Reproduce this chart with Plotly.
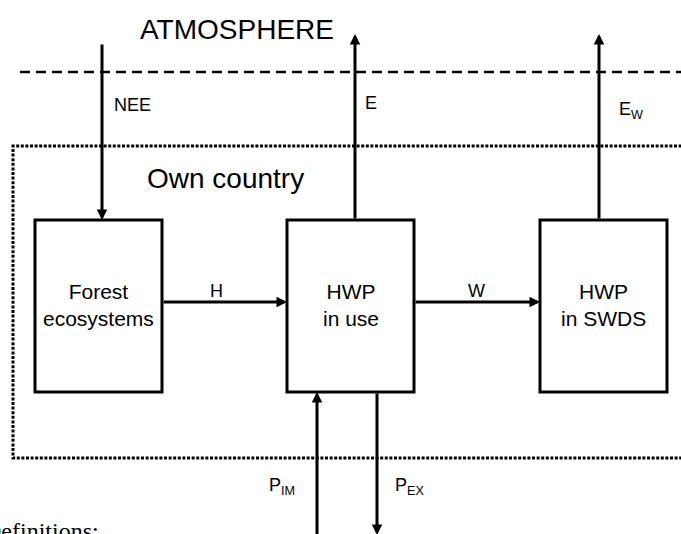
import plotly.graph_objects as go

W, H = 681, 534

# ---- content ----
title_text = "ATMOSPHERE"
region_text = "Own country"
footer_text = "Definitions:"
node_labels = ["Forest<br>ecosystems", "HWP<br>in use", "HWP<br>in SWDS"]
flow_labels = ["NEE", "E", "E<sub>W</sub>", "H", "W", "P<sub>IM</sub>", "P<sub>EX</sub>"]

# ---- geometry (pixel coordinates of the diagram) ----
node_x0 = [35, 287, 540]
node_x1 = [162, 414, 667]
node_top, node_bottom = 220, 392

flow_tail_x = [102, 355, 599, 162, 414, 317, 377]
flow_tail_y = [43, 220, 220, 302, 302, 545, 392]
flow_head_x = [102, 355, 599, 287, 540, 317, 377]
flow_head_y = [220, 34, 34, 302, 302, 392, 535]

label_x = [112, 363, 617, 216, 476, 267, 393]
label_y = [105, 103, 110, 291, 291, 486, 486]
label_anchor = ["left", "left", "left", "center", "center", "left", "left"]

SANS = "Liberation Sans, Arial, sans-serif"
SERIF = "Liberation Serif, Times New Roman, serif"

fig = go.Figure()
shapes = []
annotations = []

# atmosphere boundary (dashed)
shapes.append(dict(type="line", x0=20, x1=690, y0=72, y1=72,
                   line=dict(color="black", width=2.5, dash="10px,6px")))
# country boundary (dotted, open to the right)
shapes.append(dict(type="path", path="M 700,146 L 13,146 L 13,458 L 700,458",
                   line=dict(color="black", width=3, dash="3px,1.6px")))

# boxes
for x0, x1, lab in zip(node_x0, node_x1, node_labels):
    shapes.append(dict(type="rect", x0=x0, x1=x1, y0=node_top, y1=node_bottom,
                       line=dict(color="black", width=3), fillcolor="rgba(0,0,0,0)"))
    annotations.append(dict(x=(x0 + x1) / 2, y=(node_top + node_bottom) / 2 - 1,
                            text=lab, showarrow=False, xref="x", yref="y",
                            font=dict(family=SANS, size=21, color="black"),
                            xanchor="center", yanchor="middle"))

# flows
for tx, ty, hx, hy in zip(flow_tail_x, flow_tail_y, flow_head_x, flow_head_y):
    annotations.append(dict(x=hx, y=hy, ax=tx, ay=ty, xref="x", yref="y",
                            axref="x", ayref="y", text="", showarrow=True,
                            arrowhead=2, arrowsize=0.7, arrowwidth=3,
                            arrowcolor="black", standoff=0, startstandoff=0))
for lab, lx, ly, anc in zip(flow_labels, label_x, label_y, label_anchor):
    annotations.append(dict(x=lx, y=ly, text=lab, showarrow=False, xref="x", yref="y",
                            font=dict(family=SANS, size=18, color="black"),
                            xanchor=anc, yanchor="middle"))

annotations.append(dict(x=237, y=29, text=title_text, showarrow=False, xref="x", yref="y",
                        font=dict(family=SANS, size=28, color="black"),
                        xanchor="center", yanchor="middle"))
annotations.append(dict(x=145, y=178, text=region_text, showarrow=False, xref="x", yref="y",
                        font=dict(family=SANS, size=28, color="black"),
                        xanchor="left", yanchor="middle"))
annotations.append(dict(x=0, y=0, xref="paper", yref="paper", text=footer_text,
                        showarrow=False, xshift=-18, yshift=3,
                        font=dict(family=SERIF, size=24, color="black"),
                        xanchor="left", yanchor="middle"))

fig.update_layout(
    width=W, height=H,
    margin=dict(l=0, r=0, t=0, b=0),
    paper_bgcolor="white", plot_bgcolor="white",
    xaxis=dict(range=[0, W], visible=False, fixedrange=True),
    yaxis=dict(range=[H, 0], visible=False, fixedrange=True),
    shapes=shapes, annotations=annotations, showlegend=False,
)

fig.write_html("out.html", config={"displayModeBar": False},
               post_script="document.body.style.margin='0';document.body.style.overflow='hidden';")
